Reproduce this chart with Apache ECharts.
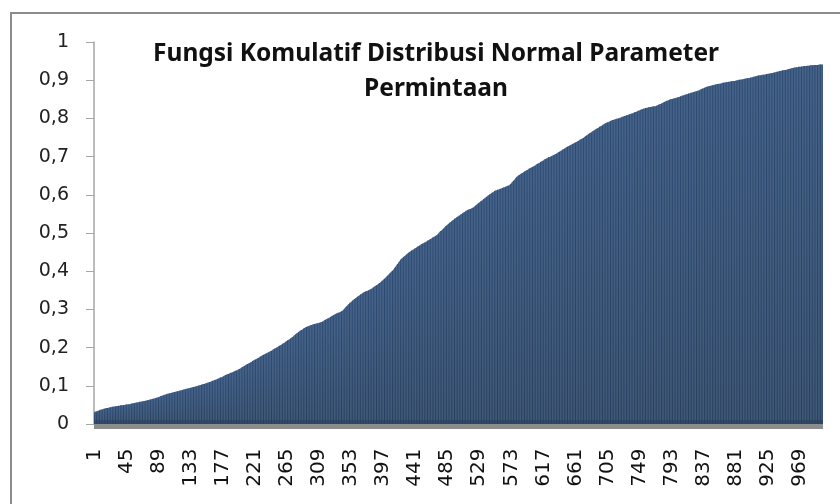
<!DOCTYPE html>
<html style="height: 100%">
<head>
<meta charset="utf-8">
</head>
<body style="height: 100%; margin: 0">
	<div id="container" style="width: 840px; height: 504px"></div>
	<script type="text/javascript" src="https://cdn.jsdelivr.net/npm/echarts@6/dist/echarts.min.js"></script>
	<script type="text/javascript">
		// judul grafik
		var titleText = 'Fungsi Komulatif Distribusi Normal Parameter\nPermintaan';

		// label sumbu y (0 - 1, langkah 0,1)
		var yMin = 0, yMax = 1, yStep = 0.1;

		// label kategori tampil tiap 44 data: 1, 45, 89, ... 969
		var labelStep = 44;

		// nilai kumulatif tiap data (1 .. 1000)
		var values = [
			0.031,0.032,0.033,0.033,0.034,0.035,0.035,0.036,0.037,0.037,
			0.038,0.038,0.039,0.040,0.040,0.041,0.041,0.042,0.042,0.042,
			0.043,0.043,0.044,0.044,0.045,0.045,0.045,0.046,0.046,0.046,
			0.047,0.047,0.047,0.048,0.048,0.048,0.049,0.049,0.049,0.049,
			0.050,0.050,0.050,0.051,0.051,0.051,0.052,0.052,0.052,0.052,
			0.053,0.053,0.054,0.054,0.054,0.055,0.055,0.056,0.056,0.056,
			0.057,0.057,0.058,0.058,0.058,0.059,0.059,0.060,0.060,0.060,
			0.061,0.061,0.062,0.062,0.063,0.063,0.064,0.064,0.065,0.065,
			0.066,0.066,0.067,0.067,0.068,0.069,0.069,0.070,0.070,0.071,
			0.072,0.073,0.073,0.074,0.075,0.075,0.076,0.077,0.077,0.078,
			0.079,0.079,0.080,0.080,0.081,0.081,0.082,0.082,0.083,0.083,
			0.084,0.084,0.085,0.085,0.086,0.086,0.087,0.087,0.088,0.088,
			0.089,0.089,0.090,0.090,0.091,0.091,0.092,0.092,0.093,0.093,
			0.094,0.094,0.095,0.095,0.096,0.096,0.097,0.097,0.098,0.098,
			0.099,0.099,0.100,0.101,0.101,0.102,0.102,0.103,0.104,0.104,
			0.105,0.105,0.106,0.107,0.107,0.108,0.108,0.109,0.110,0.110,
			0.111,0.112,0.113,0.113,0.114,0.115,0.116,0.116,0.117,0.118,
			0.119,0.120,0.121,0.122,0.122,0.123,0.124,0.125,0.126,0.127,
			0.128,0.129,0.130,0.130,0.131,0.132,0.133,0.134,0.134,0.135,
			0.136,0.137,0.138,0.139,0.140,0.140,0.141,0.142,0.143,0.144,
			0.145,0.146,0.148,0.149,0.150,0.151,0.152,0.154,0.155,0.156,
			0.157,0.158,0.159,0.160,0.161,0.162,0.163,0.165,0.166,0.167,
			0.168,0.169,0.170,0.171,0.172,0.173,0.174,0.176,0.177,0.178,
			0.179,0.180,0.181,0.182,0.183,0.184,0.185,0.186,0.187,0.188,
			0.189,0.190,0.191,0.192,0.193,0.195,0.196,0.197,0.198,0.199,
			0.200,0.201,0.202,0.204,0.205,0.206,0.207,0.208,0.210,0.211,
			0.212,0.213,0.215,0.216,0.217,0.219,0.220,0.221,0.222,0.224,
			0.225,0.227,0.228,0.230,0.232,0.233,0.235,0.236,0.238,0.239,
			0.241,0.242,0.244,0.245,0.246,0.247,0.248,0.250,0.251,0.252,
			0.253,0.254,0.255,0.256,0.256,0.257,0.258,0.259,0.259,0.260,
			0.261,0.261,0.262,0.262,0.263,0.263,0.264,0.264,0.265,0.265,
			0.266,0.267,0.267,0.268,0.269,0.270,0.272,0.273,0.274,0.275,
			0.276,0.277,0.278,0.279,0.280,0.282,0.283,0.284,0.285,0.286,
			0.287,0.288,0.289,0.290,0.291,0.291,0.292,0.293,0.294,0.295,
			0.296,0.298,0.300,0.302,0.304,0.306,0.308,0.310,0.312,0.314,
			0.316,0.318,0.319,0.321,0.323,0.324,0.326,0.327,0.329,0.330,
			0.332,0.333,0.335,0.336,0.337,0.339,0.340,0.341,0.342,0.344,
			0.345,0.346,0.347,0.348,0.348,0.349,0.350,0.351,0.352,0.353,
			0.354,0.355,0.357,0.358,0.359,0.361,0.362,0.363,0.364,0.366,
			0.367,0.369,0.370,0.372,0.374,0.375,0.377,0.379,0.380,0.382,
			0.384,0.386,0.388,0.390,0.392,0.394,0.396,0.398,0.400,0.401,
			0.403,0.406,0.409,0.411,0.414,0.417,0.419,0.422,0.425,0.427,
			0.430,0.432,0.434,0.435,0.437,0.439,0.440,0.442,0.444,0.445,
			0.447,0.448,0.450,0.451,0.452,0.454,0.455,0.456,0.457,0.459,
			0.460,0.461,0.462,0.464,0.465,0.466,0.467,0.468,0.470,0.471,
			0.472,0.473,0.474,0.475,0.476,0.477,0.478,0.480,0.481,0.482,
			0.483,0.484,0.485,0.486,0.488,0.489,0.490,0.491,0.492,0.494,
			0.495,0.497,0.499,0.501,0.503,0.505,0.506,0.508,0.510,0.512,
			0.514,0.516,0.518,0.519,0.521,0.523,0.524,0.526,0.528,0.529,
			0.531,0.532,0.534,0.535,0.537,0.538,0.539,0.541,0.542,0.544,
			0.545,0.546,0.548,0.549,0.550,0.552,0.553,0.554,0.555,0.557,
			0.558,0.559,0.560,0.561,0.562,0.562,0.563,0.564,0.565,0.566,
			0.567,0.569,0.570,0.572,0.573,0.575,0.577,0.578,0.580,0.581,
			0.583,0.584,0.586,0.587,0.589,0.590,0.592,0.593,0.595,0.596,
			0.598,0.599,0.601,0.602,0.603,0.605,0.606,0.607,0.608,0.610,
			0.611,0.611,0.612,0.613,0.613,0.614,0.615,0.616,0.616,0.617,
			0.618,0.619,0.620,0.620,0.621,0.622,0.623,0.624,0.624,0.625,
			0.626,0.628,0.630,0.633,0.635,0.637,0.639,0.641,0.644,0.646,
			0.648,0.649,0.651,0.652,0.653,0.655,0.656,0.657,0.658,0.660,
			0.661,0.662,0.663,0.664,0.665,0.666,0.668,0.669,0.670,0.671,
			0.672,0.673,0.674,0.675,0.676,0.677,0.679,0.680,0.681,0.682,
			0.683,0.684,0.686,0.687,0.688,0.689,0.690,0.692,0.693,0.694,
			0.695,0.696,0.697,0.698,0.699,0.699,0.700,0.701,0.702,0.703,
			0.704,0.705,0.706,0.707,0.708,0.709,0.711,0.712,0.713,0.714,
			0.715,0.716,0.718,0.719,0.720,0.721,0.722,0.724,0.725,0.726,
			0.727,0.728,0.729,0.730,0.731,0.732,0.733,0.734,0.735,0.736,
			0.737,0.738,0.739,0.740,0.741,0.743,0.744,0.745,0.746,0.747,
			0.748,0.749,0.751,0.752,0.754,0.755,0.756,0.758,0.759,0.761,
			0.762,0.763,0.764,0.766,0.767,0.768,0.769,0.770,0.772,0.773,
			0.774,0.775,0.776,0.778,0.779,0.780,0.781,0.782,0.784,0.785,
			0.786,0.787,0.788,0.789,0.790,0.790,0.791,0.792,0.793,0.794,
			0.795,0.796,0.796,0.797,0.797,0.798,0.799,0.799,0.800,0.800,
			0.801,0.802,0.802,0.803,0.804,0.804,0.805,0.806,0.806,0.807,
			0.808,0.809,0.809,0.810,0.811,0.811,0.812,0.813,0.813,0.814,
			0.815,0.816,0.817,0.817,0.818,0.819,0.820,0.821,0.821,0.822,
			0.823,0.824,0.824,0.825,0.826,0.826,0.827,0.827,0.828,0.828,
			0.829,0.829,0.830,0.830,0.830,0.831,0.831,0.831,0.832,0.832,
			0.832,0.833,0.834,0.835,0.836,0.837,0.837,0.838,0.839,0.840,
			0.841,0.842,0.843,0.844,0.845,0.846,0.846,0.847,0.848,0.849,
			0.850,0.850,0.851,0.851,0.852,0.852,0.853,0.853,0.854,0.854,
			0.855,0.856,0.856,0.857,0.858,0.858,0.859,0.860,0.860,0.861,
			0.862,0.862,0.863,0.864,0.864,0.865,0.865,0.866,0.867,0.867,
			0.868,0.868,0.869,0.870,0.870,0.871,0.871,0.872,0.873,0.873,
			0.874,0.875,0.876,0.877,0.878,0.878,0.879,0.880,0.881,0.882,
			0.883,0.883,0.884,0.884,0.885,0.885,0.886,0.886,0.887,0.887,
			0.888,0.888,0.889,0.889,0.890,0.890,0.890,0.891,0.891,0.891,
			0.892,0.892,0.893,0.893,0.894,0.894,0.894,0.895,0.895,0.895,
			0.896,0.896,0.896,0.897,0.897,0.897,0.898,0.898,0.898,0.898,
			0.899,0.899,0.900,0.900,0.901,0.901,0.901,0.902,0.902,0.902,
			0.903,0.903,0.904,0.904,0.905,0.905,0.905,0.906,0.906,0.906,
			0.907,0.907,0.908,0.908,0.909,0.909,0.910,0.910,0.911,0.911,
			0.912,0.912,0.912,0.913,0.913,0.913,0.914,0.914,0.914,0.914,
			0.915,0.915,0.916,0.916,0.917,0.917,0.917,0.918,0.918,0.918,
			0.919,0.919,0.920,0.920,0.921,0.921,0.922,0.922,0.923,0.923,
			0.924,0.924,0.925,0.925,0.926,0.926,0.926,0.927,0.927,0.927,
			0.928,0.928,0.929,0.929,0.930,0.930,0.931,0.931,0.932,0.932,
			0.933,0.933,0.933,0.934,0.934,0.934,0.935,0.935,0.935,0.935,
			0.936,0.936,0.936,0.937,0.937,0.937,0.937,0.937,0.938,0.938,
			0.938,0.938,0.939,0.939,0.939,0.939,0.939,0.940,0.940,0.940,
			0.940,0.940,0.940,0.940,0.941,0.941,0.941,0.941,0.941,0.941
		];

		// kategori = nomor urut data 1 .. n
		var categories = [];
		for (var i = 0; i < values.length; i++) {
			categories.push(String(i + 1));
		}

		var dom = document.getElementById("container");
		var myChart = echarts.init(dom);
		var option = {
			animation : false,
			backgroundColor : '#fff',
			title : {
				text : titleText,
				left : 431,
				top : 32,
				textAlign : 'center',
				textStyle : {
					fontFamily : 'Noto Sans',
					fontSize : 24.5,
					fontWeight : 'bold',
					color : '#111',
					lineHeight : 35
				}
			},
			graphic : [ {
				type : 'rect',
				shape : { x : 11, y : 13, width : 840, height : 500 },
				style : { fill : 'none', stroke : '#8c8c8c', lineWidth : 2 },
				silent : true
			} ],
			grid : {
				left : 94,
				right : 17,
				top : 42,
				bottom : 80
			},
			xAxis : {
				type : 'category',
				data : categories,
				offset : 4.5,
				axisLine : {
					lineStyle : { color : '#8c8c8c', width : 9, cap : 'butt' }
				},
				axisTick : { show : false },
				axisLabel : {
					interval : labelStep - 1,
					rotate : 90,
					margin : 20,
					fontFamily : 'DejaVu Sans',
					fontSize : 20,
					color : '#111'
				}
			},
			yAxis : {
				type : 'value',
				min : yMin,
				max : yMax,
				interval : yStep,
				splitLine : { show : false },
				axisLine : {
					show : true,
					lineStyle : { color : '#a6a6a6', width : 1.5 }
				},
				axisTick : {
					show : true,
					length : 8,
					lineStyle : { color : '#a6a6a6' }
				},
				axisLabel : {
					margin : 25,
					fontFamily : 'DejaVu Sans',
					fontSize : 19,
					color : '#222',
					formatter : function(v) {
						return String(+v.toFixed(1)).replace('.', ',');
					}
				}
			},
			series : [ {
				type : 'bar',
				data : values,
				barCategoryGap : '0%',
				itemStyle : {
					color : new echarts.graphic.LinearGradient(0, 0, 0, 1, [
						{ offset : 0, color : '#2b4b75' },
						{ offset : 1, color : '#253f60' }
					])
				}
			} ]
		};
		myChart.setOption(option);
	</script>
</body>
</html>
